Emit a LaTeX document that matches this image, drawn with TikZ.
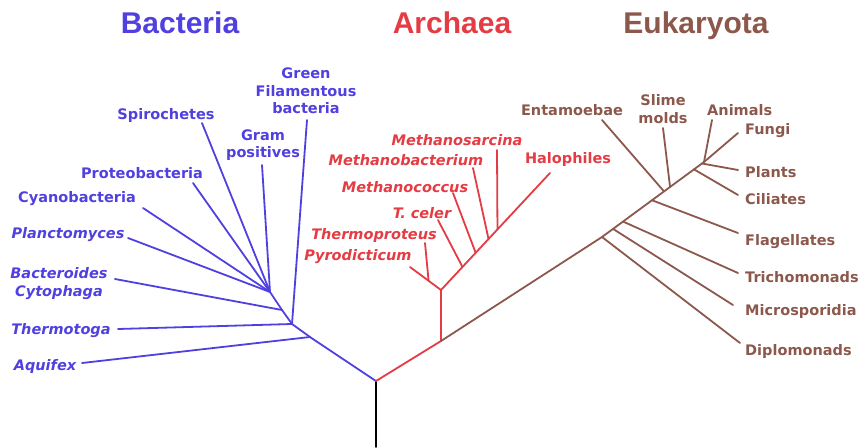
\documentclass[tikz,border=0pt]{standalone}
\usepackage{fontspec}
\setmainfont{DejaVu Sans}
\newfontfamily\hdrfont{Liberation Sans}
\usetikzlibrary{calc}
\definecolor{bac}{RGB}{80,64,224}
\definecolor{arc}{RGB}{228,60,68}
\definecolor{euk}{RGB}{140,88,76}
\begin{document}
\begin{tikzpicture}[x=1pt,y=-1pt,
  br/.style={line width=1.8pt, line cap=round, line join=round},
  lab/.style={inner sep=0pt, font=\fontsize{14.5}{17.5}\selectfont\bfseries},
  labit/.style={inner sep=0pt, font=\fontsize{14.5}{17.5}\selectfont\bfseries\itshape},
  hd/.style={inner sep=0pt, anchor=base, font=\hdrfont\fontsize{30}{36}\selectfont\bfseries}]
\useasboundingbox (0,0) rectangle (864,447);
% headers
\node[hd, text=bac] (hB) at (180,33) {Bacteria};
\node[hd, text=arc] (hA) at (452,33) {Archaea};
\node[hd, text=euk] (hE) at (696,33) {Eukaryota};
% root
\coordinate (base) at (376,447);
\coordinate (R) at (376,381);
% bacteria
\coordinate (A1) at (310,337);
\coordinate (A2) at (292,324);
\coordinate (A3) at (282,310);
\coordinate (A4) at (270,292);
\coordinate (tAqu) at (82,363);
\coordinate (tThe) at (118,329);
\coordinate (tGre) at (307,120);
\coordinate (tBac) at (115,279);
\coordinate (tGra) at (262,165);
\coordinate (tSpi) at (202,123);
\coordinate (tPro) at (193,183);
\coordinate (tCya) at (143,208);
\coordinate (tPla) at (128,238);
% archaea
\coordinate (E0) at (441,341);
\coordinate (B1) at (441,290);
\coordinate (tPyr) at (410,267);
\coordinate (tThp) at (425,243);
\coordinate (tHal) at (550,173);
\coordinate (tTc) at (438,220);
\coordinate (tMc) at (453,193);
\coordinate (tMb) at (473,168);
\coordinate (tMs) at (497,150);
\coordinate (jThp) at ($(B1)!0.4!(tPyr)$);
\coordinate (jTc) at ($(B1)!0.197!(tHal)$);
\coordinate (jMc) at ($(B1)!0.318!(tHal)$);
\coordinate (jMb) at ($(B1)!0.436!(tHal)$);
\coordinate (jMs) at ($(B1)!0.518!(tHal)$);
% eukaryota
\coordinate (D1) at (602,237);
\coordinate (Top) at (704,162);
\coordinate (D2) at ($(D1)!0.108!(Top)$);
\coordinate (D3) at ($(D1)!0.206!(Top)$);
\coordinate (D4) at ($(D1)!0.49!(Top)$);
\coordinate (D5) at ($(D1)!0.608!(Top)$);
\coordinate (D6) at ($(D1)!0.667!(Top)$);
\coordinate (D7) at ($(D1)!0.902!(Top)$);
\coordinate (D8) at ($(D1)!0.98!(Top)$);
\coordinate (tDip) at (740,343);
\coordinate (tMic) at (733,305);
\coordinate (tTri) at (738,273);
\coordinate (tFla) at (738,233);
\coordinate (tCil) at (738,195);
\coordinate (tPln) at (738,170);
\coordinate (tFun) at (738,133);
\coordinate (tAni) at (712,120);
\coordinate (tEnt) at (602,120);
\coordinate (tSli) at (663,128);
% branches
\draw[br, black] (base) -- (R);
\draw[br, bac] (R) -- (A1) -- (A2) -- (A3) -- (A4);
\draw[br, bac] (A1) -- (tAqu);
\draw[br, bac] (A2) -- (tThe);
\draw[br, bac] (A2) -- (tGre);
\draw[br, bac] (A3) -- (tBac);
\draw[br, bac] (A4) -- (tGra);
\draw[br, bac] (A4) -- (tSpi);
\draw[br, bac] (A4) -- (tPro);
\draw[br, bac] (A4) -- (tCya);
\draw[br, bac] (A4) -- (tPla);
\draw[br, arc] (R) -- (E0) -- (B1) -- (tHal);
\draw[br, arc] (B1) -- (tPyr);
\draw[br, arc] (jThp) -- (tThp);
\draw[br, arc] (jTc) -- (tTc);
\draw[br, arc] (jMc) -- (tMc);
\draw[br, arc] (jMb) -- (tMb);
\draw[br, arc] (jMs) -- (tMs);
\draw[br, euk] (E0) -- (D1) -- (Top);
\draw[br, euk] (D1) -- (tDip);
\draw[br, euk] (D2) -- (tMic);
\draw[br, euk] (D3) -- (tTri);
\draw[br, euk] (D4) -- (tFla);
\draw[br, euk] (D5) -- (tEnt);
\draw[br, euk] (D6) -- (tSli);
\draw[br, euk] (D7) -- (tCil);
\draw[br, euk] (D8) -- (tPln);
\draw[br, euk] (Top) -- (tFun);
\draw[br, euk] (Top) -- (tAni);
% bacteria labels
\node[lab, text=bac, align=center] (nGre) at (306,91) {Green\\Filamentous\\bacteria};
\node[lab, text=bac, anchor=base] (nSpi) at (166,119) {Spirochetes};
\node[lab, text=bac, align=center] (nGra) at (263,145) {Gram\\positives};
\node[lab, text=bac, anchor=base] (nPro) at (142,178) {Proteobacteria};
\node[lab, text=bac, anchor=base] (nCya) at (77,202) {Cyanobacteria};
\node[labit, text=bac, anchor=base] (nPla) at (68,238) {Planctomyces};
\node[labit, text=bac, align=center] (nBac) at (59,283.5) {Bacteroides\\Cytophaga};
\node[labit, text=bac, anchor=base] (nThe) at (61,334) {Thermotoga};
\node[labit, text=bac, anchor=base] (nAqu) at (45,370) {Aquifex};
% archaea labels
\node[labit, text=arc, anchor=base] (nMs) at (457,145) {Methanosarcina};
\node[labit, text=arc, anchor=base] (nMb) at (406,165) {Methanobacterium};
\node[labit, text=arc, anchor=base] (nMc) at (405,192) {Methanococcus};
\node[labit, text=arc, anchor=base] (nTc) at (422,218) {T. celer};
\node[labit, text=arc, anchor=base] (nThp) at (374,239) {Thermoproteus};
\node[labit, text=arc, anchor=base] (nPyr) at (358,260) {Pyrodicticum};
\node[lab, text=arc, anchor=base] (nHal) at (568,163) {Halophiles};
% eukaryota labels
\node[lab, text=euk, anchor=base] (nEnt) at (572,115) {Entamoebae};
\node[lab, text=euk, align=center] (nSli) at (663,109) {Slime\\molds};
\node[lab, text=euk, anchor=base west] (nAni) at (707,115) {Animals};
\node[lab, text=euk, anchor=base west] (nFun) at (745,134) {Fungi};
\node[lab, text=euk, anchor=base west] (nPln) at (745,177) {Plants};
\node[lab, text=euk, anchor=base west] (nCil) at (745,204) {Ciliates};
\node[lab, text=euk, anchor=base west] (nFla) at (745,245) {Flagellates};
\node[lab, text=euk, anchor=base west] (nTri) at (745,282) {Trichomonads};
\node[lab, text=euk, anchor=base west] (nMic) at (745,315) {Microsporidia};
\node[lab, text=euk, anchor=base west] (nDip) at (745,355) {Diplomonads};
\end{tikzpicture}
\end{document}
